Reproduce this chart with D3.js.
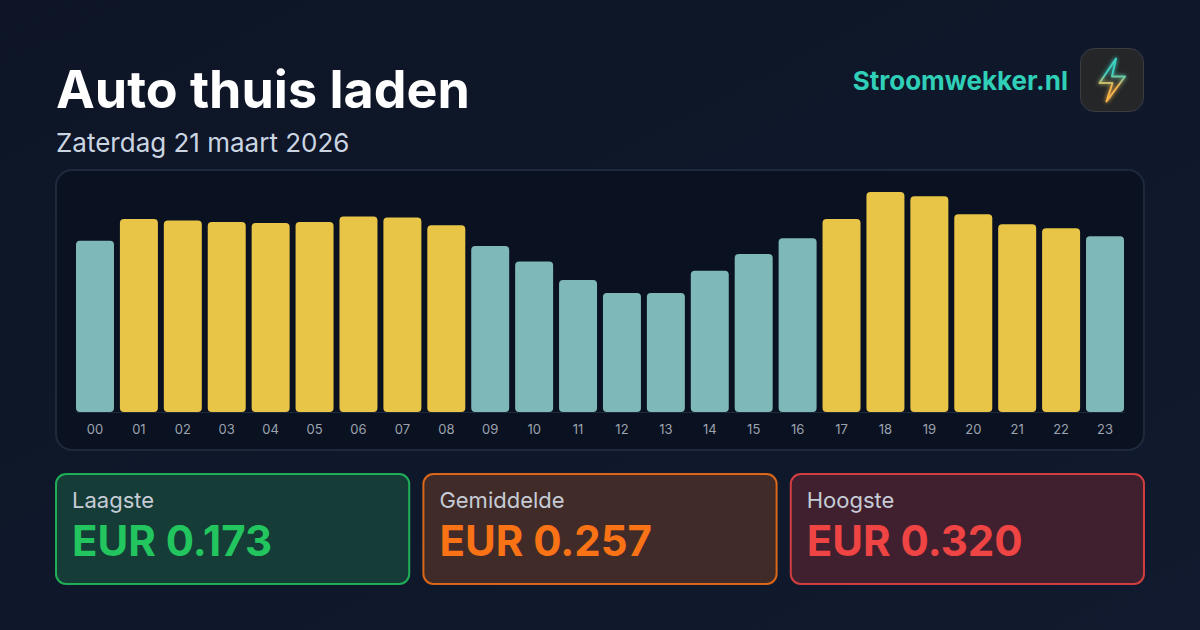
<!DOCTYPE html>
<html>
<head>
<meta charset="utf-8">
<title>Auto thuis laden</title>
<script src="https://cdn.jsdelivr.net/npm/d3@7"></script>
<style>
    html, body { margin: 0; padding: 0; background: #0f172a; }
    svg { display: block; font-family: Inter, "Noto Sans", sans-serif; }
</style>
</head>
<body>
<div id="chart"></div>
<script>
const hours = ["00", "01", "02", "03", "04", "05", "06", "07", "08", "09", "10", "11",
    "12", "13", "14", "15", "16", "17", "18", "19", "20", "21", "22", "23"];
const prices = [0.2490, 0.2807, 0.2785, 0.2764, 0.2749, 0.2764, 0.2844, 0.2829, 0.2716, 0.2415, 0.2189, 0.1920,
    0.1730, 0.1730, 0.2055, 0.2298, 0.2527, 0.2807, 0.3200, 0.3138, 0.2876, 0.2730, 0.2672, 0.2556];
const statLabels = ["Laagste", "Gemiddelde", "Hoogste"];
const statValues = ["EUR 0.173", "EUR 0.257", "EUR 0.320"];
const statColors = ["#22c55e", "#f97316", "#ef4444"];
const statFills = ["#163c37", "#412b28", "#40202f"];
const average = 0.257;

const width = 1200, height = 630;

const svg = d3.select("#chart").append("svg")
    .attr("width", width)
    .attr("height", height);

const defs = svg.append("defs");

const bg = defs.append("linearGradient").attr("id", "bg")
    .attr("x1", 0).attr("y1", 0).attr("x2", 1).attr("y2", 1);
bg.append("stop").attr("offset", "0%").attr("stop-color", "#0d1526");
bg.append("stop").attr("offset", "100%").attr("stop-color", "#111a2e");

const boltGrad = defs.append("linearGradient").attr("id", "boltGrad")
    .attr("x1", 0).attr("y1", 0).attr("x2", 0).attr("y2", 1);
boltGrad.append("stop").attr("offset", "35%").attr("stop-color", "#3ccfc0");
boltGrad.append("stop").attr("offset", "65%").attr("stop-color", "#f5b24a");

const glow = defs.append("filter").attr("id", "glow")
    .attr("x", "-60%").attr("y", "-60%").attr("width", "220%").attr("height", "220%");
glow.append("feGaussianBlur").attr("stdDeviation", 2).attr("result", "blur");
const merge = glow.append("feMerge");
merge.append("feMergeNode").attr("in", "blur");
merge.append("feMergeNode").attr("in", "SourceGraphic");

svg.append("rect").attr("width", width).attr("height", height).attr("fill", "url(#bg)");

// header
svg.append("text")
    .attr("x", 56).attr("y", 108)
    .attr("font-size", 52).attr("font-weight", 700)
    .attr("fill", "#ffffff")
    .text("Auto thuis laden");

svg.append("text")
    .attr("x", 56).attr("y", 152)
    .attr("font-size", 26)
    .attr("fill", "#cbd5e1")
    .text("Zaterdag 21 maart 2026");

svg.append("text")
    .attr("x", 1068).attr("y", 90)
    .attr("text-anchor", "end")
    .attr("font-size", 26).attr("font-weight", 700)
    .attr("fill", "#2fcfb8")
    .text("Stroomwekker.nl");

// logo
svg.append("rect")
    .attr("x", 1080.5).attr("y", 48.5)
    .attr("width", 63).attr("height", 63)
    .attr("rx", 14)
    .attr("fill", "#242628")
    .attr("stroke", "#3a3d42");

svg.append("path")
    .attr("d", "M1116 58.5L1099.5 83H1112.5L1106.5 101.5L1125 76.5H1112Z")
    .attr("fill", "none")
    .attr("stroke", "url(#boltGrad)")
    .attr("stroke-width", 2)
    .attr("stroke-linejoin", "round")
    .attr("filter", "url(#glow)");

// chart panel
svg.append("rect")
    .attr("x", 56).attr("y", 170)
    .attr("width", 1088).attr("height", 280)
    .attr("rx", 16)
    .attr("fill", "#0a1120")
    .attr("stroke", "#1e293b")
    .attr("stroke-width", 2);

const x = d3.scaleBand()
    .domain(hours)
    .range([76, 1124])
    .paddingInner(0.135)
    .paddingOuter(0);

const y = d3.scaleLinear()
    .domain([0, 0.32])
    .range([412, 192]);

svg.selectAll(".bar")
    .data(prices)
    .enter()
    .append("rect")
    .attr("class", "bar")
    .attr("x", (d, i) => x(hours[i]))
    .attr("y", d => y(d))
    .attr("width", x.bandwidth())
    .attr("height", d => y(0) - y(d))
    .attr("rx", 4)
    .attr("fill", d => d >= average ? "#e8c547" : "#7fb8b8");

const axis = svg.append("g")
    .attr("transform", "translate(0,412)")
    .call(d3.axisBottom(x).tickSize(0).tickPadding(13));

axis.select(".domain").attr("stroke", "#1e293b");
axis.selectAll("text")
    .attr("font-family", "Inter, sans-serif")
    .attr("font-size", 13)
    .attr("fill", "#9ca3af");

// stat cards
const cardX = d3.scaleBand()
    .domain(statLabels)
    .range([56, 1144])
    .paddingInner(0.0385)
    .paddingOuter(0);

const cards = svg.selectAll(".card")
    .data(statLabels)
    .enter()
    .append("g")
    .attr("class", "card")
    .attr("transform", d => "translate(" + cardX(d) + ",474)");

cards.append("rect")
    .attr("width", cardX.bandwidth())
    .attr("height", 110)
    .attr("rx", 10)
    .attr("fill", (d, i) => statFills[i])
    .attr("stroke", (d, i) => statColors[i])
    .attr("stroke-width", 2)
    .attr("stroke-opacity", 0.85);

cards.append("text")
    .attr("x", 16).attr("y", 34)
    .attr("font-size", 22)
    .attr("fill", "#c6ccd6")
    .text(d => d);

cards.append("text")
    .attr("x", 16).attr("y", 82)
    .attr("font-size", 42).attr("font-weight", 700)
    .attr("fill", (d, i) => statColors[i])
    .text((d, i) => statValues[i]);
</script>
</body>
</html>
